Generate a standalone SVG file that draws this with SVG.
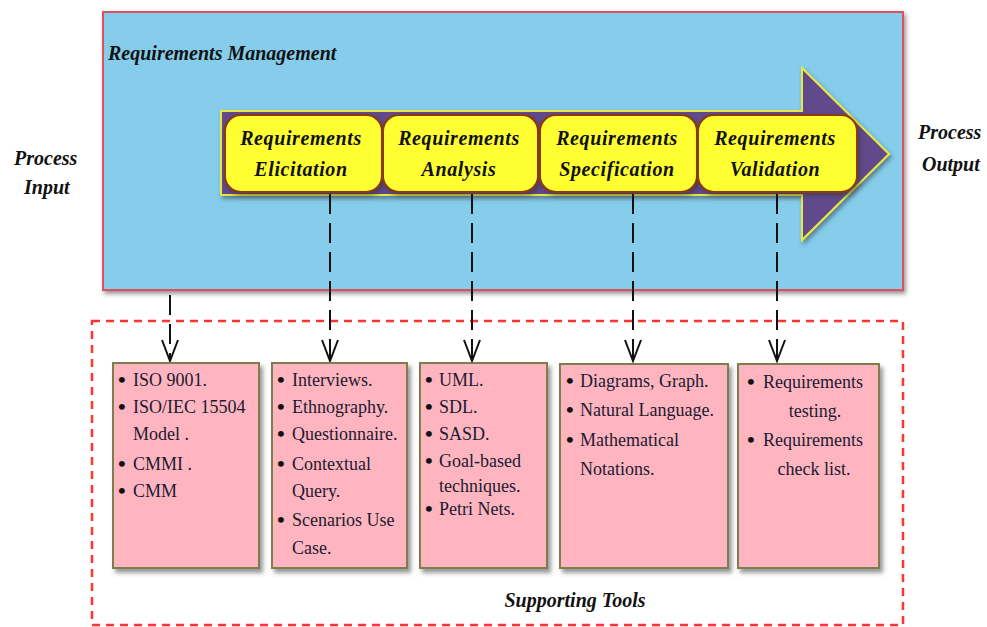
<svg xmlns="http://www.w3.org/2000/svg" width="987" height="627" viewBox="0 0 987 627">
  <style>
    .title { font-family: "Liberation Serif", "Times New Roman", serif; font-weight: bold; font-style: italic; font-size: 20px; fill: #111; }
    .stage { font-family: "Liberation Serif", "Times New Roman", serif; font-weight: bold; font-style: italic; font-size: 20px; fill: #111; text-anchor: middle; letter-spacing: 0.6px; }
    .item { font-family: "Liberation Serif", "Times New Roman", serif; font-size: 18px; fill: #1a1a30; }
    .dot { font-family: "Liberation Serif", "Times New Roman", serif; font-size: 22px; font-weight: bold; fill: #111; }
    .stagebox { fill: #FFFF33; stroke: #8B3A10; stroke-width: 2; }
    .toolbox { fill: #FFB5C0; stroke: #7D7D4E; stroke-width: 2; }
    .link { fill: none; stroke: #111; stroke-width: 2; stroke-dasharray: 20 9; }
    .head { fill: none; stroke: #111; stroke-width: 2; }
  </style>
  <defs>
    <filter id="shadow" x="-10%" y="-10%" width="130%" height="130%">
      <feDropShadow dx="3" dy="4" stdDeviation="2" flood-color="#444" flood-opacity="0.55"/>
    </filter>
    <filter id="softShadow" x="-10%" y="-10%" width="130%" height="130%">
      <feDropShadow dx="2" dy="3" stdDeviation="2" flood-color="#333" flood-opacity="0.5"/>
    </filter>
  </defs>

  <!-- Requirements management panel -->
  <g id="management">
    <rect x="103" y="12" width="800" height="278" fill="#85CDEB" stroke="#E0505E" stroke-width="2" filter="url(#softShadow)"/>
    <text class="title" x="108" y="60">Requirements Management</text>
  </g>

  <!-- Process flow arrow -->
  <g id="flow-arrow">
    <path d="M221,111 L802,111 L802,68 L889,154 L802,240 L802,195 L221,195 Z" fill="#62488C" stroke="#E8E840" stroke-width="2" filter="url(#softShadow)"/>
  </g>

  <g id="elicitation">
    <rect class="stagebox" x="225" y="115" width="157" height="77" rx="16" filter="url(#softShadow)"/>
    <text class="stage" x="301" y="145">Requirements</text>
    <text class="stage" x="301" y="176">Elicitation</text>
  </g>
  <g id="analysis">
    <rect class="stagebox" x="383" y="115" width="155" height="77" rx="16" filter="url(#softShadow)"/>
    <text class="stage" x="459" y="145">Requirements</text>
    <text class="stage" x="459" y="176">Analysis</text>
  </g>
  <g id="specification">
    <rect class="stagebox" x="540" y="115" width="157" height="77" rx="16" filter="url(#softShadow)"/>
    <text class="stage" x="617" y="145">Requirements</text>
    <text class="stage" x="617" y="176">Specification</text>
  </g>
  <g id="validation">
    <rect class="stagebox" x="698" y="115" width="159" height="77" rx="16" filter="url(#softShadow)"/>
    <text class="stage" x="775" y="145">Requirements</text>
    <text class="stage" x="775" y="176">Validation</text>
  </g>

  <g id="process-input">
    <text class="title" x="14" y="165">Process</text>
    <text class="title" x="24" y="194">Input</text>
  </g>
  <g id="process-output">
    <text class="title" x="918" y="139">Process</text>
    <text class="title" x="922" y="171">Output</text>
  </g>

  <!-- Supporting tools frame -->
  <g id="supporting-tools">
    <rect x="92" y="321" width="811" height="304" fill="none" stroke="#FF3535" stroke-width="2.5" stroke-dasharray="8 6"/>
    <text class="title" x="575" y="607" text-anchor="middle">Supporting Tools</text>
  </g>

  <!-- Connectors -->
  <g id="connectors">
    <path class="link" d="M170,295 L170,359"/>
    <path class="link" d="M330,194 L330,359"/>
    <path class="link" d="M472,194 L472,359"/>
    <path class="link" d="M633,194 L633,359"/>
    <path class="link" d="M777,194 L777,359"/>
    <path class="head" d="M162,340 L170,361 L178,340"/>
    <path class="head" d="M322,340 L330,361 L338,340"/>
    <path class="head" d="M464,340 L472,361 L480,340"/>
    <path class="head" d="M625,340 L633,361 L641,340"/>
    <path class="head" d="M769,340 L777,361 L785,340"/>
  </g>

  <g id="tools-standards">
    <rect class="toolbox" x="113" y="363" width="146" height="205" filter="url(#shadow)"/>
    <text class="dot" x="118" y="387">•</text><text class="item" x="133" y="386">ISO 9001.</text>
    <text class="dot" x="118" y="414">•</text><text class="item" x="133" y="413">ISO/IEC 15504</text>
    <text class="item" x="133" y="440">Model .</text>
    <text class="dot" x="118" y="471">•</text><text class="item" x="133" y="470">CMMI .</text>
    <text class="dot" x="118" y="498">•</text><text class="item" x="133" y="497">CMM</text>
  </g>

  <g id="tools-elicitation">
    <rect class="toolbox" x="272" y="363" width="135" height="205" filter="url(#shadow)"/>
    <text class="dot" x="277" y="387">•</text><text class="item" x="292" y="386">Interviews.</text>
    <text class="dot" x="277" y="414">•</text><text class="item" x="292" y="413">Ethnography.</text>
    <text class="dot" x="277" y="441">•</text><text class="item" x="292" y="440">Questionnaire.</text>
    <text class="dot" x="277" y="471">•</text><text class="item" x="292" y="470">Contextual</text>
    <text class="item" x="292" y="497">Query.</text>
    <text class="dot" x="277" y="527">•</text><text class="item" x="292" y="526">Scenarios Use</text>
    <text class="item" x="292" y="554">Case.</text>
  </g>

  <g id="tools-analysis">
    <rect class="toolbox" x="420" y="363" width="127" height="205" filter="url(#shadow)"/>
    <text class="dot" x="425" y="387">•</text><text class="item" x="439" y="386">UML.</text>
    <text class="dot" x="425" y="414">•</text><text class="item" x="439" y="413">SDL.</text>
    <text class="dot" x="425" y="441">•</text><text class="item" x="439" y="440">SASD.</text>
    <text class="dot" x="425" y="468">•</text><text class="item" x="439" y="467">Goal-based</text>
    <text class="item" x="439" y="492">techniques.</text>
    <text class="dot" x="425" y="516">•</text><text class="item" x="439" y="515">Petri Nets.</text>
  </g>

  <g id="tools-specification">
    <rect class="toolbox" x="560" y="364" width="168" height="204" filter="url(#shadow)"/>
    <text class="dot" x="566" y="388">•</text><text class="item" x="580" y="387">Diagrams, Graph.</text>
    <text class="dot" x="566" y="417">•</text><text class="item" x="580" y="416">Natural Language.</text>
    <text class="dot" x="566" y="447">•</text><text class="item" x="580" y="446">Mathematical</text>
    <text class="item" x="580" y="475">Notations.</text>
  </g>

  <g id="tools-validation">
    <rect class="toolbox" x="738" y="364" width="141" height="204" filter="url(#shadow)"/>
    <text class="dot" x="747" y="389">•</text><text class="item" x="763" y="388">Requirements</text>
    <text class="item" x="815" y="417" text-anchor="middle">testing.</text>
    <text class="dot" x="747" y="447">•</text><text class="item" x="763" y="446">Requirements</text>
    <text class="item" x="814" y="475" text-anchor="middle">check list.</text>
  </g>
</svg>
